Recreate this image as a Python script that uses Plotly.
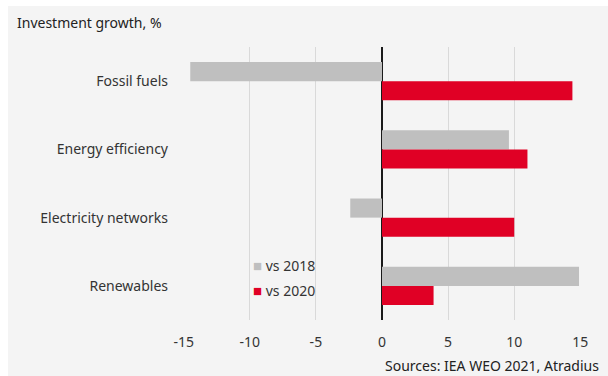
import plotly.graph_objects as go

categories = ["Fossil fuels", "Energy efficiency", "Electricity networks", "Renewables"]
vs_2018 = [-14.5, 9.6, -2.4, 14.9]
vs_2020 = [14.4, 11.0, 10.0, 3.9]
tick_vals = [-15, -10, -5, 0, 5, 10, 15]
series_names = ["vs 2018", "vs 2020"]
series_colors = ["#bfbfbf", "#e00025"]

BG = "#f4f4f4"
FONT = "Noto Sans"
W, H = 608, 376
L, R, T, B = 183, 27, 47, 56
pw, ph = W - L - R, H - T - B

fig = go.Figure()
for vals, name, col in zip([vs_2018, vs_2020], series_names, series_colors):
    fig.add_trace(go.Bar(y=categories, x=vals, orientation="h", name=name,
                         marker=dict(color=col, line=dict(width=0))))

legend_ann = []
for i, (name, col) in enumerate(zip(series_names, series_colors)):
    legend_ann.append(dict(
        text=f"<span style='color:{col};font-size:15px'>■</span> {name}",
        xref="paper", yref="paper", x=(251 - L) / pw, y=(H - B - (265 + 25 * i)) / ph,
        xanchor="left", yanchor="middle", showarrow=False,
        font=dict(size=14, color="#333333")))

fig.update_layout(
    width=W, height=H,
    margin=dict(l=L, r=R, t=T, b=B, pad=0),
    paper_bgcolor=BG, plot_bgcolor=BG,
    barmode="group", bargap=0.44, bargroupgap=0,
    font=dict(family=FONT, size=14, color="#333333"),
    showlegend=False,
    xaxis=dict(range=[-15.05, 15.05], tickvals=tick_vals, ticktext=[str(v) for v in tick_vals],
               showgrid=True, gridcolor="#d9d9d9", gridwidth=1,
               zeroline=True, zerolinecolor="#1a1a1a", zerolinewidth=2,
               showline=False, ticks="", ticklabelstandoff=12,
               tickfont=dict(size=14, color="#333333"), fixedrange=True),
    yaxis=dict(autorange="reversed", showgrid=False, zeroline=False, showline=False,
               ticks="", ticklabelstandoff=14,
               tickfont=dict(size=14, color="#333333"), fixedrange=True),
    shapes=[
        dict(type="rect", xref="paper", yref="paper",
             x0=-L / pw, x1=(8 - L) / pw, y0=-B / ph, y1=(H - B) / ph + 0.01,
             fillcolor="white", line=dict(width=0), layer="above"),
        dict(type="rect", xref="paper", yref="paper",
             x0=-L / pw, x1=(W - L) / pw + 0.01, y0=(H - B - 6) / ph, y1=(H - B) / ph + 0.02,
             fillcolor="white", line=dict(width=0), layer="above"),
    ],
    annotations=legend_ann + [
        dict(text="Investment growth, %", xref="paper", yref="paper",
             x=(15 - L) / pw, y=(H - B - 22) / ph, xanchor="left", yanchor="middle",
             showarrow=False, font=dict(size=14, color="#222222")),
        dict(text="Sources: IEA WEO 2021, Atradius", xref="paper", yref="paper",
             x=(601 - L) / pw, y=(H - B - 365) / ph, xanchor="right", yanchor="middle",
             showarrow=False, font=dict(size=14, color="#222222")),
    ],
)

fig.write_html("out.html", config={"displayModeBar": False})
